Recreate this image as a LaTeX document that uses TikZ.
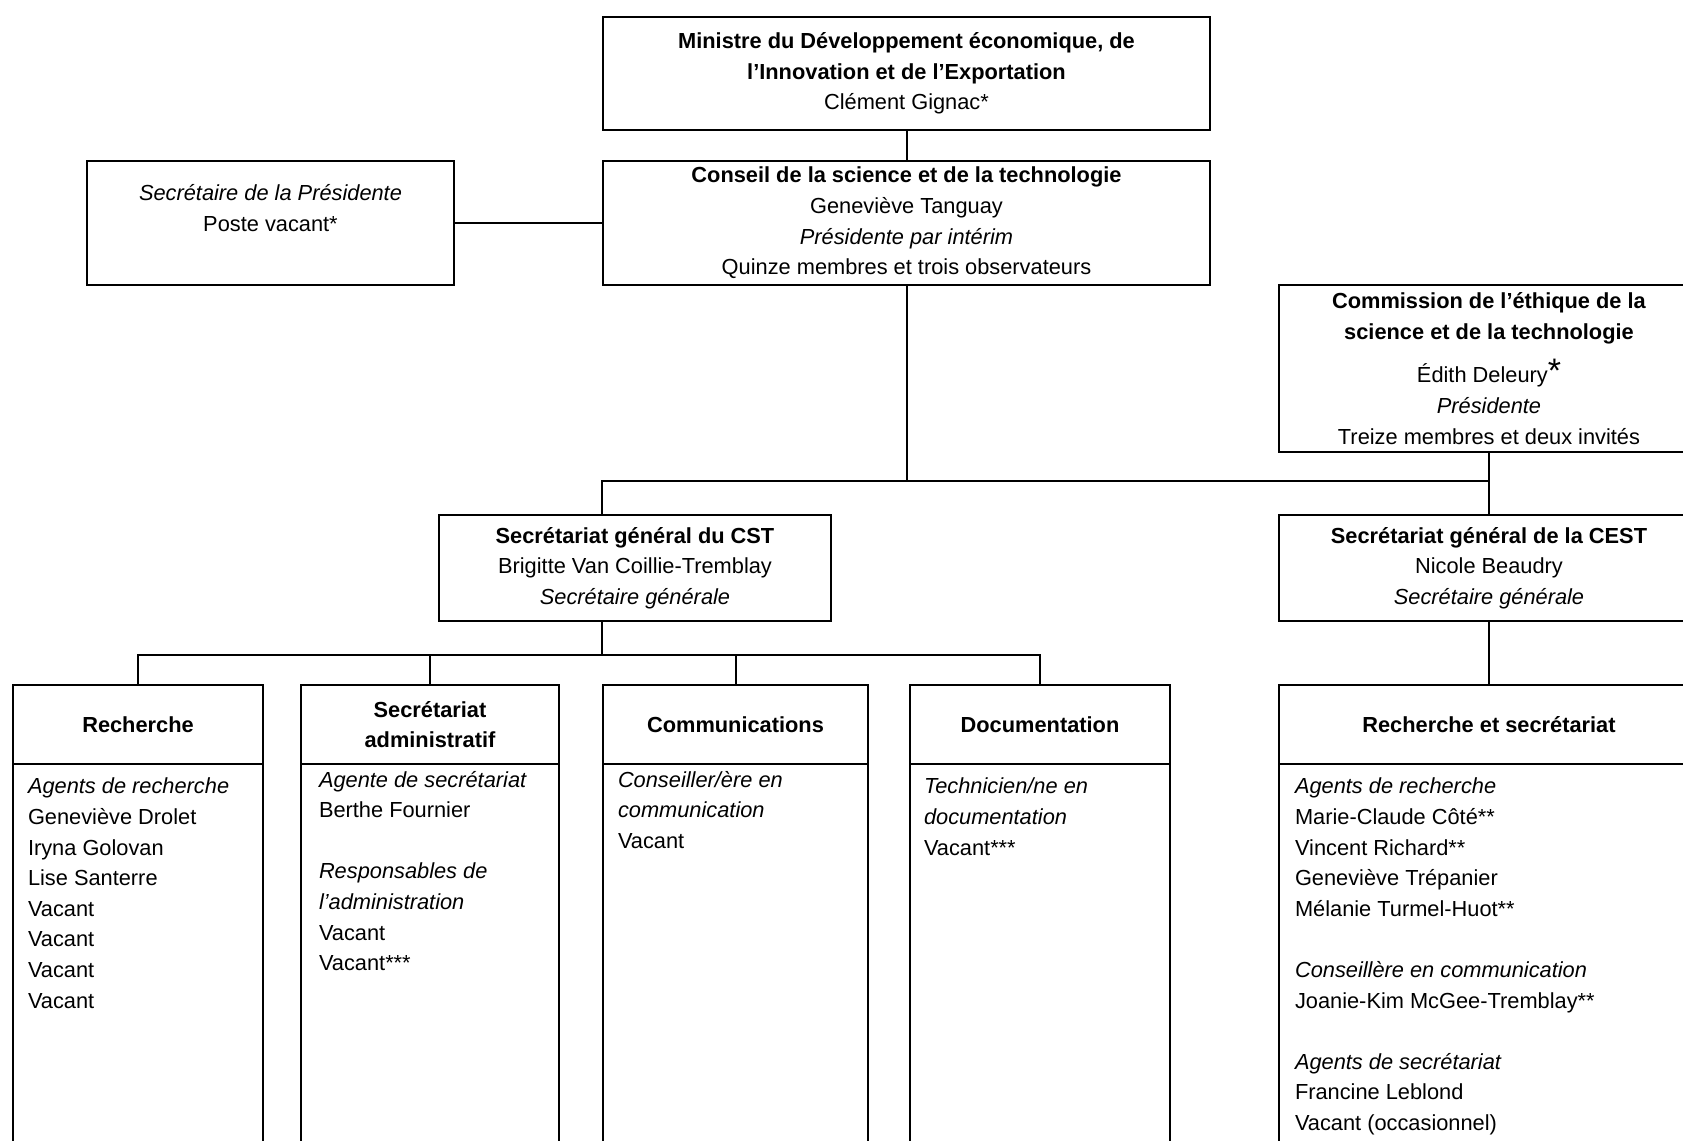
\documentclass[tikz,border=0pt]{standalone}
\usepackage{fontspec}
\setmainfont{Liberation Sans}
\begin{document}
\begin{tikzpicture}[x=1pt,y=-1pt,line width=2pt,
  font=\fontsize{21.8pt}{30.6pt}\selectfont,
  box/.style={draw,inner sep=0pt,align=center,anchor=north west},
  list/.style={inner sep=0pt,align=left,anchor=north west}]
\useasboundingbox (0,0) rectangle (1683,1140);
\clip (0,0) rectangle (1683,1140);
\node[box,minimum width=607pt,minimum height=113pt] (mini) at (602,16)
  {\textbf{Ministre du Développement économique, de}\\\textbf{l’Innovation et de l’Exportation}\\Clément Gignac*};
\node[box,minimum width=607pt,minimum height=124pt] (csct) at (602,160)
  {\textbf{Conseil de la science et de la technologie}\\Geneviève Tanguay\\\textit{Présidente par intérim}\\Quinze membres et trois observateurs};
\node[box,minimum width=367pt,minimum height=124pt] (secp) at (86,160)
  {\textit{Secrétaire de la Présidente}\\Poste vacant*\\~};
\node[box,minimum width=420pt,minimum height=167pt] (ceth) at (1278,284)
  {\textbf{Commission de l’éthique de la}\\\textbf{science et de la technologie}\\[13pt]Édith Deleury{\fontsize{34pt}{34pt}\selectfont *}\\\textit{Présidente}\\Treize membres et deux invités};
\node[box,minimum width=392pt,minimum height=106pt] (sgcst) at (438,514)
  {\textbf{Secrétariat général du CST}\\Brigitte Van Coillie-Tremblay\\\textit{Secrétaire générale}};
\node[box,minimum width=420pt,minimum height=106pt] (sgcest) at (1278,514)
  {\textbf{Secrétariat général de la CEST}\\Nicole Beaudry\\\textit{Secrétaire générale}};
\node[box,minimum width=250pt,minimum height=79pt] (rech) at (12,684) {\textbf{Recherche}};
\node[box,minimum width=250pt,minimum height=437pt] (rech-b) at (12,763) {};
\node[box,minimum width=258pt,minimum height=79pt] (sadm) at (300,684) {\textbf{Secrétariat}\\\textbf{administratif}};
\node[box,minimum width=258pt,minimum height=437pt] (sadm-b) at (300,763) {};
\node[box,minimum width=265pt,minimum height=79pt] (comm) at (602,684) {\textbf{Communications}};
\node[box,minimum width=265pt,minimum height=437pt] (comm-b) at (602,763) {};
\node[box,minimum width=260pt,minimum height=79pt] (docu) at (909,684) {\textbf{Documentation}};
\node[box,minimum width=260pt,minimum height=437pt] (docu-b) at (909,763) {};
\node[box,minimum width=420pt,minimum height=79pt] (rsec) at (1278,684) {\textbf{Recherche et secrétariat}};
\node[box,minimum width=420pt,minimum height=437pt] (rsec-b) at (1278,763) {};
\node[list] (rech-t) at ([xshift=15pt,yshift=-14pt]rech-b.north west)
  {\textit{Agents de recherche}\\Geneviève Drolet\\Iryna Golovan\\Lise Santerre\\Vacant\\Vacant\\Vacant\\Vacant};
\node[list] (sadm-t) at ([xshift=18pt,yshift=-7pt]sadm-b.north west)
  {\textit{Agente de secrétariat}\\Berthe Fournier\\[30.6pt]\textit{Responsables de}\\\textit{l’administration}\\Vacant\\Vacant***};
\node[list] (comm-t) at ([xshift=15pt,yshift=-7pt]comm-b.north west)
  {\textit{Conseiller/ère en}\\\textit{communication}\\Vacant};
\node[list] (docu-t) at ([xshift=14pt,yshift=-14pt]docu-b.north west)
  {\textit{Technicien/ne en}\\\textit{documentation}\\Vacant***};
\node[list] (rsec-t) at ([xshift=16pt,yshift=-14pt]rsec-b.north west)
  {\textit{Agents de recherche}\\Marie-Claude Côté**\\Vincent Richard**\\Geneviève Trépanier\\Mélanie Turmel-Huot**\\[30.6pt]\textit{Conseillère en communication}\\Joanie-Kim McGee-Tremblay**\\[30.6pt]\textit{Agents de secrétariat}\\Francine Leblond\\Vacant (occasionnel)};
\coordinate (b1) at (602,481);
\coordinate (b2) at (602,655);
\draw (mini) -- (csct);
\draw (secp) -- (csct);
\draw (csct.south) -- (csct.south |- b1);
\draw (sgcst.north -| b1) -- (b1) -| (sgcest.north);
\draw (ceth.south) -- (sgcest.north);
\draw (sgcst.south -| b2) -- (b2);
\draw (rech.north) |- (docu.north |- b2) -- (docu.north);
\draw (sadm.north) -- (sadm.north |- b2);
\draw (comm.north) -- (comm.north |- b2);
\draw (sgcest.south) -- (rsec.north);
\end{tikzpicture}
\end{document}
